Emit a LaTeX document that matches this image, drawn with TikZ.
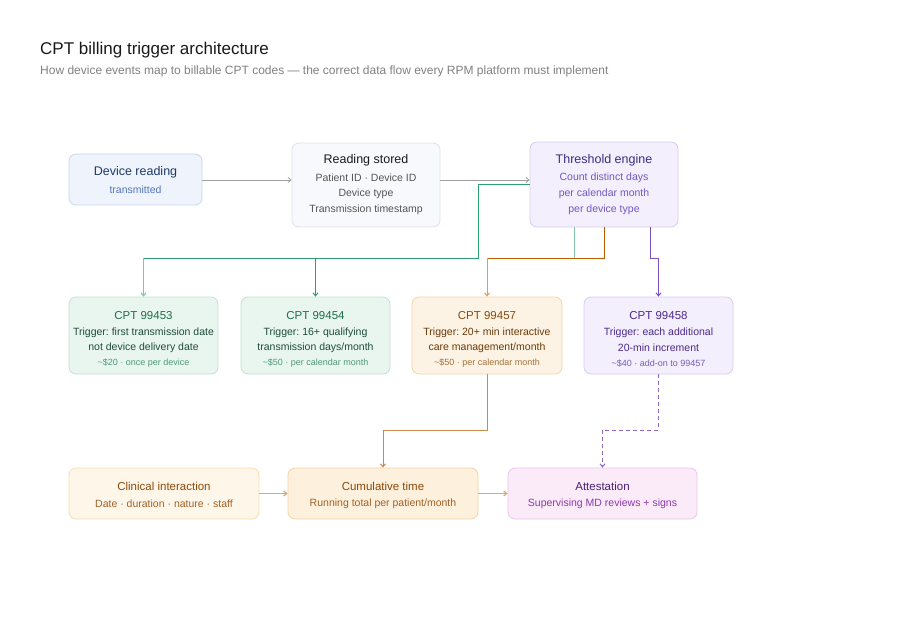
\documentclass[tikz,border=0pt]{standalone}
\usepackage{fontspec}
\setmainfont{Liberation Sans}
\usetikzlibrary{arrows.meta,calc}
\frenchspacing
\definecolor{cBlueF}{HTML}{EEF3FC}\definecolor{cBlueD}{HTML}{C9D6EE}
\definecolor{cBlueT}{HTML}{1F3A68}\definecolor{cBlueS}{HTML}{5577BB}
\definecolor{cGrayF}{HTML}{F8F9FC}\definecolor{cGrayD}{HTML}{DCE1EC}
\definecolor{cGrayT}{HTML}{1A1A1A}\definecolor{cGrayS}{HTML}{555555}
\definecolor{cPurF}{HTML}{F3EFFC}\definecolor{cPurD}{HTML}{D8CCF2}
\definecolor{cPurT}{HTML}{3B2C85}\definecolor{cPurS}{HTML}{7457C2}
\definecolor{cGrnF}{HTML}{E9F6EF}\definecolor{cGrnD}{HTML}{BFE3CF}
\definecolor{cGrnT}{HTML}{1F6E4A}\definecolor{cGrnB}{HTML}{1E4D38}\definecolor{cGrnS}{HTML}{4E9A76}
\definecolor{cOrF}{HTML}{FDF3E4}\definecolor{cOrD}{HTML}{F3D5A8}
\definecolor{cOrT}{HTML}{8A4A0C}\definecolor{cOrB}{HTML}{6B3A0A}\definecolor{cOrS}{HTML}{A4703C}
\definecolor{cP8T}{HTML}{4B2A8C}\definecolor{cP8S}{HTML}{7A5CB8}
\definecolor{cClF}{HTML}{FEF6E8}\definecolor{cClD}{HTML}{F6DDB2}\definecolor{cClS}{HTML}{A0622A}
\definecolor{cCuF}{HTML}{FDF0DC}\definecolor{cCuD}{HTML}{F3D3A2}
\definecolor{cAtF}{HTML}{FBEAF8}\definecolor{cAtD}{HTML}{EBC6EA}
\definecolor{cAtT}{HTML}{4A2070}\definecolor{cAtS}{HTML}{8A3AA8}
\definecolor{lnGray}{HTML}{A0A0A0}\definecolor{lnGreen}{HTML}{2E9E6E}\definecolor{lnMint}{HTML}{7FC6A4}
\definecolor{lnOr}{HTML}{B85C00}\definecolor{lnOrL}{HTML}{D9A066}\definecolor{lnOrM}{HTML}{C98A4A}
\definecolor{lnPur}{HTML}{7B4FC0}\definecolor{lnTan}{HTML}{D4AA7A}
\begin{document}
\begin{tikzpicture}[x=1pt,y=-1pt,
  box/.style={draw,rounded corners=7pt,line width=0.8pt,inner sep=0pt},
  txt/.style={yshift=-1.5pt},
  ttl/.style={txt,font=\fontsize{12.5}{14}\selectfont},
  ctl/.style={txt,font=\fontsize{11.5}{13}\selectfont},
  bdy/.style={txt,font=\fontsize{10.5}{12}\selectfont},
  sml/.style={txt,font=\fontsize{9}{10}\selectfont},
  arr/.style={-{Straight Barb[length=3pt,width=5pt]}},
  con/.style={line width=1pt}]
\useasboundingbox (0,0) rectangle (900,623);
\node[anchor=west,inner sep=0pt,font=\fontsize{17}{20}\selectfont,text=black!90] (title) at (40,50.5) {CPT billing trigger architecture};
\node[anchor=west,inner sep=0pt,font=\fontsize{12}{14}\selectfont,text=black!50] (subtitle) at (40,71.5) {How device events map to billable CPT codes — the correct data flow every RPM platform must implement};
% row 1
\node[box,fill=cBlueF,draw=cBlueD,minimum width=133pt,minimum height=51pt] (dev) at (135.5,179.5) {};
\node[ttl,text=cBlueT] at (135.5,171) {Device reading};
\node[bdy,text=cBlueS] at (135.5,188) {transmitted};
\node[box,fill=cGrayF,draw=cGrayD,minimum width=148pt,minimum height=84pt] (stored) at (366,185) {};
\node[ttl,text=cGrayT] at (366,159) {Reading stored};
\node[bdy,text=cGrayS] at (366,176) {Patient ID · Device ID};
\node[bdy,text=cGrayS] at (366,192) {Device type};
\node[bdy,text=cGrayS] at (366,208) {Transmission timestamp};
\node[box,fill=cPurF,draw=cPurD,minimum width=148pt,minimum height=85pt] (thr) at (604,184.5) {};
\node[ttl,text=cPurT] at (604,159) {Threshold engine};
\node[bdy,text=cPurS] at (604,176) {Count distinct days};
\node[bdy,text=cPurS] at (604,192) {per calendar month};
\node[bdy,text=cPurS] at (604,208) {per device type};
% row 2
\node[box,fill=cGrnF,draw=cGrnD,minimum width=149pt,minimum height=77pt] (c453) at (143.5,335.5) {};
\node[ctl,text=cGrnT] at (143.5,314) {CPT 99453};
\node[bdy,text=cGrnB] at (143.5,331) {Trigger: first transmission date};
\node[bdy,text=cGrnB] at (143.5,346) {not device delivery date};
\node[sml,text=cGrnS] at (143.5,362) {\textasciitilde\$20 · once per device};
\node[box,fill=cGrnF,draw=cGrnD,minimum width=149pt,minimum height=77pt] (c454) at (315.5,335.5) {};
\node[ctl,text=cGrnT] at (315.5,314) {CPT 99454};
\node[bdy,text=cGrnB] at (315.5,331) {Trigger: 16+ qualifying};
\node[bdy,text=cGrnB] at (315.5,346) {transmission days/month};
\node[sml,text=cGrnS] at (315.5,362) {\textasciitilde\$50 · per calendar month};
\node[box,fill=cOrF,draw=cOrD,minimum width=150pt,minimum height=77pt] (c457) at (487,335.5) {};
\node[ctl,text=cOrT] at (487,314) {CPT 99457};
\node[bdy,text=cOrB] at (487,331) {Trigger: 20+ min interactive};
\node[bdy,text=cOrB] at (487,346) {care management/month};
\node[sml,text=cOrS] at (487,362) {\textasciitilde\$50 · per calendar month};
\node[box,fill=cPurF,draw=cPurD,minimum width=149pt,minimum height=77pt] (c458) at (658.5,335.5) {};
\node[ctl,text=cP8T] at (658.5,314) {CPT 99458};
\node[bdy,text=cP8T] at (658.5,331) {Trigger: each additional};
\node[bdy,text=cP8T] at (658.5,346) {20-min increment};
\node[sml,text=cP8S] at (658.5,362) {\textasciitilde\$40 · add-on to 99457};
% row 3
\node[box,fill=cClF,draw=cClD,minimum width=190pt,minimum height=51pt] (clin) at (164,493.5) {};
\node[ctl,text=cOrT] at (164,485) {Clinical interaction};
\node[bdy,text=cClS] at (164,502) {Date · duration · nature · staff};
\node[box,fill=cCuF,draw=cCuD,minimum width=190pt,minimum height=51pt] (cum) at (383,493.5) {};
\node[ctl,text=cOrT] at (383,485) {Cumulative time};
\node[bdy,text=cClS] at (383,502) {Running total per patient/month};
\node[box,fill=cAtF,draw=cAtD,minimum width=189pt,minimum height=51pt] (att) at (602.5,493.5) {};
\node[ctl,text=cAtT] at (602.5,485) {Attestation};
\node[bdy,text=cAtS] at (602.5,502) {Supervising MD reviews + signs};
% connectors
\coordinate (bus) at (0,258);
\coordinate (lvl) at (0,430);
\draw[con,lnGray,arr,line width=0.8pt] (dev.east |- 0,180) -- (stored.west |- 0,180);
\draw[con,lnGray,arr,line width=0.8pt] (stored.east |- 0,180) -- (thr.west |- 0,180);
\draw[con,lnMint] ([xshift=-30pt]thr.south) -- ([xshift=-30pt]thr.south |- bus);
\draw[con,lnGreen] (thr.west) -| (478,258) -- (c453.north |- bus);
\draw[con,lnMint,arr] (c453.north |- bus) -- (c453.north);
\draw[con,lnGreen,arr] (c454.north |- bus) -- (c454.north);
\draw[con,lnOr] (thr.south) |- (c457.north |- bus);
\draw[con,lnOrL,arr] (c457.north |- bus) -- (c457.north);
\draw[con,lnPur,arr] ([xshift=46pt]thr.south) |- (c458.north |- bus) -- (c458.north);
\draw[con,lnOrM,arr] (c457.south) -- (c457.south |- lvl) -| (cum.north);
\draw[con,lnPur!85,arr,dash pattern=on 4pt off 3pt] (c458.south) -- (c458.south |- lvl) -| (att.north);
\draw[con,lnTan,arr,line width=1.2pt] (clin.east) -- (cum.west);
\draw[con,lnTan,arr,line width=1.2pt] (cum.east) -- (att.west);
\end{tikzpicture}
\end{document}
